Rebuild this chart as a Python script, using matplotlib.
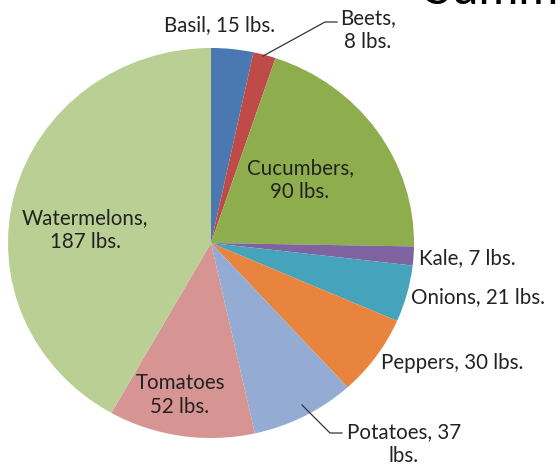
import matplotlib.pyplot as plt
from matplotlib.lines import Line2D

# harvest data (lbs.)
crops = ['Basil', 'Beets', 'Cucumbers', 'Kale', 'Onions', 'Peppers',
         'Potatoes', 'Tomatoes', 'Watermelons']
weights = [15, 8, 90, 7, 21, 30, 37, 52, 187]
colors = ['#4A78B0', '#BE4B48', '#8EAE4E', '#7E63A0', '#45A3BB', '#E8843E',
          '#94ABD3', '#D69492', '#B9CF94']

# label text and placement in pixels (x, y from top), ha
label_text = ['Basil, 15 lbs.', 'Beets,\n8 lbs.', 'Cucumbers,\n90 lbs.', 'Kale, 7 lbs.',
              'Onions, 21 lbs.', 'Peppers, 30 lbs.', 'Potatoes, 37\nlbs.',
              'Tomatoes\n52 lbs.', 'Watermelons,\n187 lbs.']
label_pos = [(220, 25, 'center'), (368, 30, 'center'), (300, 180, 'center'),
             (419, 258, 'left'), (411, 297, 'left'), (381, 363, 'left'),
             (404, 444, 'center'), (180, 395, 'center'), (85, 230, 'center')]

W, H = 560, 465
fig = plt.figure(figsize=(W / 100, H / 100), dpi=100)
plt.rcParams['font.family'] = ['Lato', 'DejaVu Sans']

# pie is slightly wider than tall in the reference
ax = fig.add_axes([8 / W, (H - 438) / H, 406 / W, 390 / H])
ax.pie(weights, colors=colors, startangle=90, counterclock=False,
       wedgeprops=dict(linewidth=0))
ax.set_aspect('auto')
ax.set_xlim(-1, 1)
ax.set_ylim(-1, 1)

for txt, (px, py, ha) in zip(label_text, label_pos):
    fig.text(px / W, 1 - py / H, txt, ha=ha, va='center', fontsize=14.8,
             color='#222222', linespacing=1.2)

# leader lines for Beets and Potatoes
for xs, ys in [([263, 325, 337], [56, 22, 22]), ([302, 330, 342], [405, 433, 433])]:
    fig.add_artist(Line2D([x / W for x in xs], [1 - y / H for y in ys],
                          color='#333333', linewidth=0.9))

# title is cut off at the top edge
fig.text(425 / W, 1 - 4 / H, 'Summer Harvest', ha='left', va='baseline',
         fontsize=35, color='black')

fig.savefig('out.png', dpi=100)
